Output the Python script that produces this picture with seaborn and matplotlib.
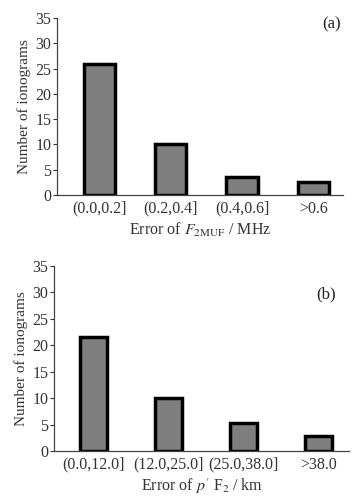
import pandas as pd
import matplotlib
matplotlib.use("Agg")
import matplotlib.pyplot as plt
import seaborn as sns

# data
cats_a = ["(0.0,0.2]", "(0.2,0.4]", "(0.4,0.6]", ">0.6"]
counts_a = [26, 10, 3.5, 2.6]
cats_b = ["(0.0,12.0]", "(12.0,25.0]", "(25.0,38.0]", ">38.0"]
counts_b = [21.5, 10, 5.3, 2.8]
yticks = [0, 5, 10, 15, 20, 25, 30, 35]

sns.set_theme(style="ticks")
plt.rcParams['font.family'] = ['Liberation Serif', 'DejaVu Serif']
plt.rcParams['mathtext.fontset'] = 'stix'

fig = plt.figure(figsize=(3.53, 4.99), dpi=100)

def panel(rect, cats, counts, width, xlim, xlabel, tag, tag_xy):
    ax = fig.add_axes(rect)
    df = pd.DataFrame({'cat': cats, 'n': counts})
    sns.barplot(data=df, x='cat', y='n', ax=ax, color='#7f7f7f', saturation=1,
                width=width, edgecolor='black', linewidth=2.5)
    ax.set_ylim(0, 35)
    ax.set_xlim(*xlim)
    ax.set_yticks(yticks)
    ax.tick_params(axis='y', length=3, width=0.8, labelsize=11.5, pad=1, colors='#333333')
    ax.tick_params(axis='x', length=0, labelsize=11.5, pad=4, colors='#333333')
    ax.set_ylabel('Number of ionograms', fontsize=11, color='#333333', labelpad=3)
    ax.set_xlabel(xlabel, fontsize=11.5, color='#333333', labelpad=3)
    for s in ['top', 'right']:
        ax.spines[s].set_visible(False)
    for s in ['left', 'bottom']:
        ax.spines[s].set_linewidth(0.9)
        ax.spines[s].set_color('#444444')
    fig.text(tag_xy[0], tag_xy[1], tag, fontsize=12, color='#222222',
             ha='center', va='center')
    return ax

panel([0.161, 0.609, 0.811, 0.355], cats_a, counts_a, 0.44, (-0.6, 3.42),
      'Error of $F_{\\mathrm{2MUF}}$ / MHz', '(a)', (0.938, 0.952))
panel([0.153, 0.096, 0.837, 0.371], cats_b, counts_b, 0.36, (-0.52, 3.41),
      "Error of $p'$ F$_2$ / km", '(b)', (0.925, 0.41))

fig.savefig('out.png', dpi=100)
